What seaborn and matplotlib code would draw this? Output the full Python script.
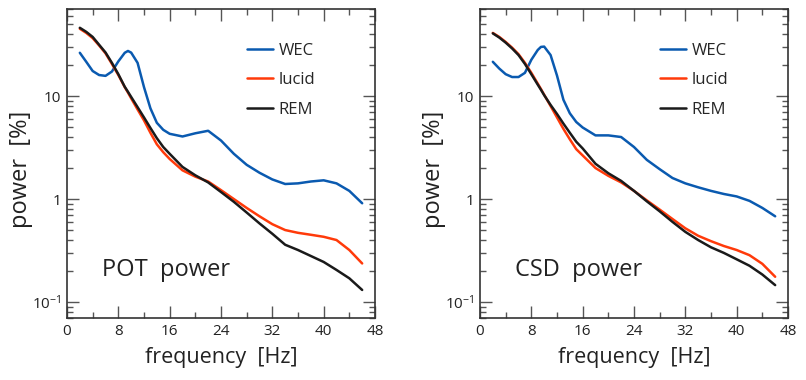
import numpy as np
import pandas as pd
import matplotlib
matplotlib.use("Agg")
import matplotlib.pyplot as plt
import seaborn as sns
from matplotlib.ticker import FixedLocator, MultipleLocator, LogLocator, NullFormatter

# ---------------- data ----------------
freq = [2, 3, 4, 5, 6, 7, 8, 9, 9.5, 10, 11, 12, 13, 14, 15, 16, 18, 20, 22, 24,
        26, 28, 30, 32, 34, 36, 38, 40, 42, 44, 46]

pot_wec = [26.3, 21.5, 17.5, 16, 15.7, 17.3, 21.7, 26.3, 27.4, 26.4, 21, 12.2, 7.6, 5.5, 4.7, 4.3,
           4.05, 4.35, 4.6, 3.7, 2.75, 2.15, 1.8, 1.55, 1.4, 1.42, 1.48, 1.52, 1.42, 1.2, 0.91]
pot_lucid = [45, 41, 36.5, 31, 26, 20.5, 16, 12.2, 10.8, 9.5, 7.4, 5.8, 4.4, 3.4, 2.85, 2.45,
             1.9, 1.65, 1.48, 1.22, 1.0, 0.82, 0.68, 0.57, 0.5, 0.47, 0.45, 0.43, 0.4, 0.32, 0.237]
pot_rem = [46, 42, 37.5, 31.5, 26.5, 21, 16.3, 12.3, 11, 9.8, 7.8, 6.2, 4.9, 3.9, 3.2, 2.75,
           2.05, 1.7, 1.45, 1.17, 0.94, 0.74, 0.58, 0.46, 0.36, 0.32, 0.28, 0.245, 0.205, 0.17, 0.131]

csd_wec = [21.5, 18.5, 16.3, 15.3, 15.3, 16.8, 22.5, 28, 30, 30.2, 25, 15.8, 9.2, 6.8, 5.6, 4.95,
           4.15, 4.15, 4.0, 3.2, 2.4, 1.95, 1.6, 1.42, 1.3, 1.2, 1.12, 1.06, 0.96, 0.82, 0.68]
csd_lucid = [41, 37.5, 33.5, 29.5, 25.5, 21, 16.8, 13.2, 11.7, 10.3, 8, 6.2, 4.8, 3.8, 3.05, 2.65,
             2.0, 1.68, 1.45, 1.2, 0.97, 0.79, 0.64, 0.52, 0.44, 0.39, 0.35, 0.32, 0.285, 0.235, 0.176]
csd_rem = [40.6, 37, 33, 29, 25, 20.5, 16.3, 12.9, 11.5, 10.2, 8.2, 6.7, 5.4, 4.4, 3.6, 3.1,
           2.2, 1.78, 1.5, 1.2, 0.95, 0.76, 0.6, 0.48, 0.4, 0.34, 0.3, 0.26, 0.225, 0.185, 0.146]

states = ["WEC", "lucid", "REM"]
panel_titles = ["POT  power", "CSD  power"]
x_ticks = [0, 8, 16, 24, 32, 40, 48]
y_ticks = [0.1, 1, 10]
y_tick_labels = ["$10^{-1}$", "1", "10"]

colors = {"WEC": "#0a5ab0", "lucid": "#ff3a0a", "REM": "#1a1a1a"}

# ---------------- style ----------------
sns.set_theme(style="ticks")
plt.rcParams["font.family"] = ["Open Sans", "DejaVu Sans"]
plt.rcParams["mathtext.fontset"] = "custom"
plt.rcParams["mathtext.rm"] = "Open Sans"
plt.rcParams["mathtext.it"] = "Open Sans"

fig = plt.figure(figsize=(8.06, 3.8), dpi=100)
axes = [fig.add_axes([67 / 806, 1 - 318 / 380, 308 / 806, 309 / 380]),
        fig.add_axes([480 / 806, 1 - 318 / 380, 308 / 806, 309 / 380])]

panels = [(pot_wec, pot_lucid, pot_rem), (csd_wec, csd_lucid, csd_rem)]

for ax, vals, title in zip(axes, panels, panel_titles):
    rows = []
    for s, v in zip(states, vals):
        for f, p in zip(freq, v):
            rows.append({"frequency": f, "power": p, "state": s})
    df = pd.DataFrame(rows)
    sns.lineplot(data=df, x="frequency", y="power", hue="state", hue_order=states,
                 palette=colors, linewidth=1.8, sort=False, ax=ax)
    for ln in ax.get_lines():
        ln.set_solid_joinstyle("round")
        ln.set_solid_capstyle("round")
    ax.set_yscale("log")
    ax.set_xlim(0, 48)
    ax.set_ylim(0.07, 70)

    ax.xaxis.set_major_locator(FixedLocator(x_ticks))
    ax.xaxis.set_minor_locator(MultipleLocator(4))
    ax.set_xticklabels([str(t) for t in x_ticks])
    ax.yaxis.set_major_locator(FixedLocator(y_ticks))
    ax.yaxis.set_minor_locator(LogLocator(base=10, subs=np.arange(2, 10)))
    ax.yaxis.set_minor_formatter(NullFormatter())
    ax.set_yticklabels(y_tick_labels)

    ax.tick_params(axis="both", which="both", direction="in", top=True, right=True,
                   colors="#555555", labelcolor="#222222", labelsize=11, width=1.0)
    ax.tick_params(axis="both", which="major", length=8.6)
    ax.tick_params(axis="both", which="minor", length=4.0)
    ax.tick_params(axis="x", which="major", pad=4)
    ax.tick_params(axis="y", which="major", pad=4)
    for sp in ax.spines.values():
        sp.set_color("#333333")
        sp.set_linewidth(1.2)

    ax.set_xlabel("frequency  [Hz]", fontsize=15.5, color="#222222")
    ax.set_ylabel("power  [%]", fontsize=17, color="#222222")
    ax.xaxis.set_label_coords(0.5, -0.095)
    ax.yaxis.set_label_coords(-0.11, 0.48)

    h, l = ax.get_legend_handles_labels()
    ax.legend(h, l, loc="upper left", bbox_to_anchor=(0.584, 0.89), frameon=False,
              fontsize=12, handlelength=1.55, handletextpad=0.35, labelspacing=0.8,
              borderpad=0, borderaxespad=0)

    ax.text(0.115, 0.155, title, transform=ax.transAxes, fontsize=17,
            color="#222222", va="center", ha="left")

fig.savefig("out.png", dpi=100)
